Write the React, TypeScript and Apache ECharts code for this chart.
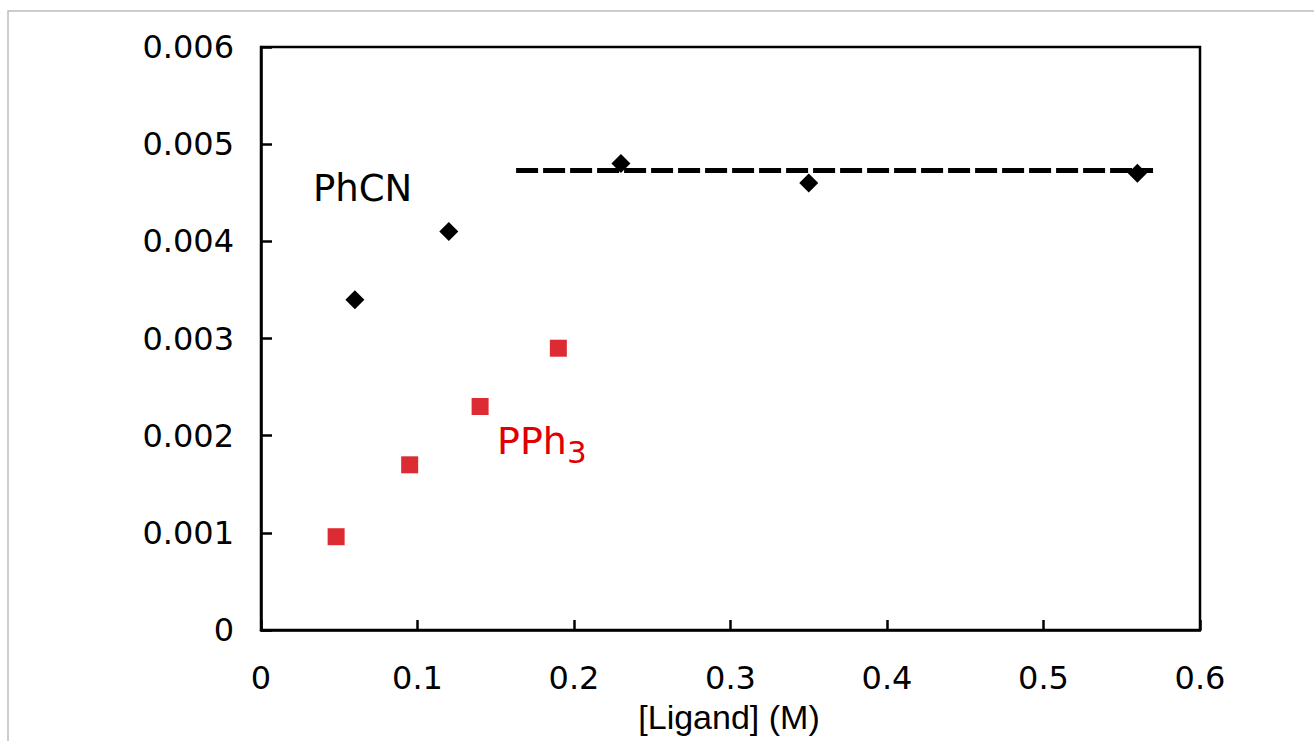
import React, { useEffect, useRef } from "react";
import * as echarts from "echarts";

const xTicks = [0, 0.1, 0.2, 0.3, 0.4, 0.5, 0.6];
const yTicks = [0, 0.001, 0.002, 0.003, 0.004, 0.005, 0.006];
const phcnX = [0.06, 0.12, 0.23, 0.35, 0.56];
const phcnY = [0.0034, 0.0041, 0.0048, 0.0046, 0.0047];
const pph3X = [0.048, 0.095, 0.14, 0.19];
const pph3Y = [0.00096, 0.0017, 0.0023, 0.0029];
const plateauX = [0.163, 0.57];
const plateauY = [0.00473, 0.00473];

const FONT = "DejaVu Sans";

export default function App() {
  const ref = useRef<HTMLDivElement>(null);
  useEffect(() => {
    if (!ref.current) return;
    const chart = echarts.init(ref.current, undefined, { renderer: "svg" });
    chart.setOption({
      animation: false,
      backgroundColor: "#ffffff",
      grid: {
        left: 261,
        right: 114,
        top: 47,
        bottom: 111,
        show: true,
        borderColor: "#000",
        borderWidth: 2.5,
        containLabel: false,
      },
      xAxis: {
        type: "value",
        min: 0,
        max: 0.6,
        interval: 0.1,
        axisLine: { show: true, onZero: false, lineStyle: { color: "#000", width: 2.5 } },
        axisTick: { show: true, inside: true, length: 10, lineStyle: { color: "#000", width: 2.5 } },
        splitLine: { show: false },
        axisLabel: {
          margin: 32,
          color: "#000",
          fontFamily: FONT,
          fontSize: 32,
          formatter: (v: number) => {
            const t = xTicks.find((k) => Math.abs(k - v) < 1e-9);
            return t === undefined ? "" : String(t);
          },
        },
      },
      yAxis: {
        type: "value",
        min: 0,
        max: 0.006,
        interval: 0.001,
        axisLine: { show: true, onZero: false, lineStyle: { color: "#000", width: 2.5 } },
        axisTick: { show: true, inside: true, length: 11, lineStyle: { color: "#000", width: 2.5 } },
        splitLine: { show: false },
        axisLabel: {
          margin: 27,
          color: "#000",
          fontFamily: FONT,
          fontSize: 32,
          formatter: (v: number) => {
            const t = yTicks.find((k) => Math.abs(k - v) < 1e-9);
            return t === undefined ? "" : t === 0 ? "0" : t.toFixed(3);
          },
        },
      },
      series: [
        {
          type: "line",
          data: plateauX.map((x, i) => [x, plateauY[i]]),
          showSymbol: false,
          symbol: "none",
          lineStyle: { color: "#000", width: 5, type: [22, 5] },
          z: 2,
        },
        {
          type: "scatter",
          data: phcnX.map((x, i) => [x, phcnY[i]]),
          symbol: "diamond",
          symbolSize: 19,
          itemStyle: { color: "#000", opacity: 1 },
          z: 3,
        },
        {
          type: "scatter",
          data: pph3X.map((x, i) => [x, pph3Y[i]]),
          symbol: "rect",
          symbolSize: 17,
          itemStyle: { color: "#dc2b33", opacity: 1 },
          z: 3,
        },
      ],
      graphic: [
        {
          type: "rect",
          shape: { x: 8, y: 11, width: 1400, height: 800 },
          style: { fill: "none", stroke: "#bdbdbd", lineWidth: 1.5 },
          silent: true,
          z: 0,
        },
        {
          type: "text",
          x: 313,
          y: 188,
          style: {
            text: "PhCN",
            fill: "#000",
            font: `37px "${FONT}"`,
            textAlign: "left",
            textVerticalAlign: "middle",
          },
        },
        {
          type: "text",
          x: 497,
          y: 441,
          style: {
            text: "PPh",
            fill: "#e00000",
            font: `38px "${FONT}"`,
            textAlign: "left",
            textVerticalAlign: "middle",
          },
        },
        {
          type: "text",
          x: 567,
          y: 452,
          style: {
            text: "3",
            fill: "#e00000",
            font: `31px "${FONT}"`,
            textAlign: "left",
            textVerticalAlign: "middle",
          },
        },
        {
          type: "text",
          x: 729,
          y: 717,
          style: {
            text: "[Ligand] (M)",
            fill: "#000",
            font: `34px "Liberation Sans"`,
            textAlign: "center",
            textVerticalAlign: "middle",
          },
        },
      ],
    });
    return () => chart.dispose();
  }, []);
  return (
    <div
      ref={ref}
      style={{ position: "absolute", left: 0, top: 0, width: 1314, height: 741 }}
    />
  );
}
